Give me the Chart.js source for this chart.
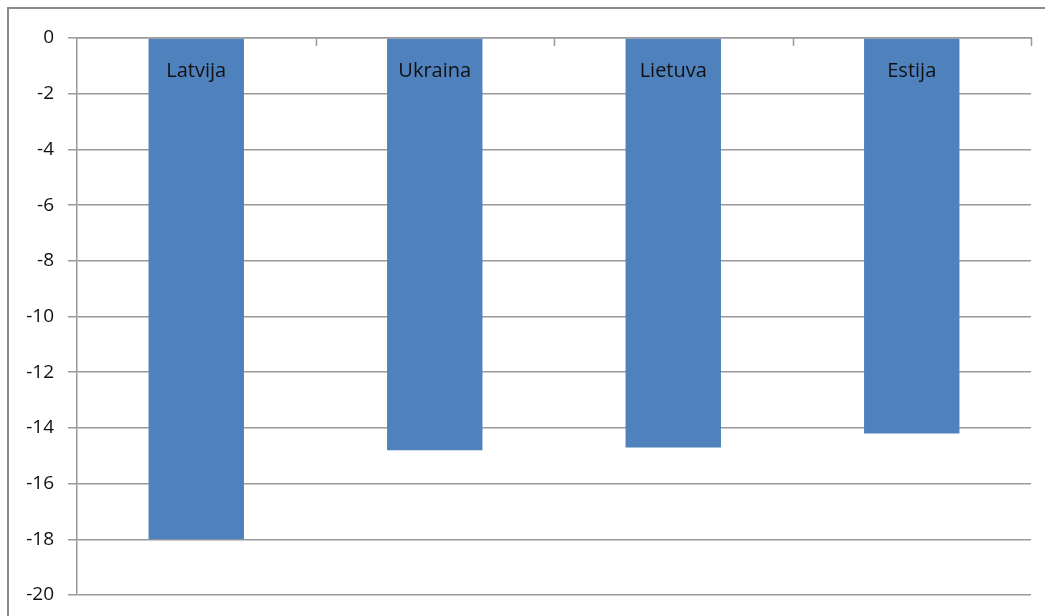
<!DOCTYPE html>
<html>
<head>
<meta charset="utf-8">
<script src="https://cdn.jsdelivr.net/npm/chart.js@4"></script>
<style>
  html, body { margin: 0; padding: 0; background: #fff; overflow: hidden; }
  #wrap { position: relative; width: 1045px; height: 616px; }
  #frame {
    position: absolute; left: 7px; top: 7px; width: 1100px; height: 700px;
    border-left: 2px solid #8a8a8a; border-top: 2px solid #8a8a8a;
    pointer-events: none;
  }
  canvas { position: absolute; left: 0; top: 0; }
</style>
</head>
<body>
<div id="wrap">
  <div id="frame"></div>
  <canvas id="chart" width="1045" height="616"></canvas>
</div>
<script>
// Countries and their values
const countries = ['Latvija', 'Ukraina', 'Lietuva', 'Estija'];
const values = [-18, -14.8, -14.7, -14.2];
const yMin = -20;
const yMax = 0;
const yStep = 2;

const FONT = '"Open Sans", Lato, sans-serif';
const GRID = '#9a9a9a';

// Writes each category name inside the top of its bar, and draws the short
// inward tick marks between categories along the top axis.
const categoryLabels = {
  id: 'categoryLabels',
  afterDatasetsDraw(chart) {
    const { ctx, chartArea } = chart;
    const x = chart.scales.x;
    ctx.save();
    ctx.fillStyle = '#111';
    ctx.font = '20px ' + FONT;
    ctx.textAlign = 'center';
    ctx.textBaseline = 'middle';
    countries.forEach((name, i) => {
      ctx.fillText(name, x.getPixelForValue(i), chartArea.top + 33);
    });
    ctx.strokeStyle = GRID;
    ctx.lineWidth = 1.5;
    const edges = [];
    for (let i = 1; i < countries.length; i++) {
      edges.push((x.getPixelForValue(i - 1) + x.getPixelForValue(i)) / 2);
    }
    edges.push(chartArea.right);
    edges.forEach(px => {
      const p = Math.round(px) + 0.5;
      ctx.beginPath();
      ctx.moveTo(p, chartArea.top);
      ctx.lineTo(p, chartArea.top + 8);
      ctx.stroke();
    });
    ctx.restore();
  }
};

new Chart(document.getElementById('chart'), {
  type: 'bar',
  data: {
    labels: countries,
    datasets: [{
      data: values,
      backgroundColor: '#4F81BD',
      borderWidth: 0,
      categoryPercentage: 0.4,
      barPercentage: 1.0
    }]
  },
  options: {
    responsive: false,
    animation: false,
    devicePixelRatio: 1,
    layout: { padding: { top: 38, right: 14, bottom: 21, left: 0 } },
    plugins: { legend: { display: false }, tooltip: { enabled: false } },
    scales: {
      x: {
        position: 'top',
        grid: { display: false },
        border: { display: true, color: GRID, width: 1.5 },
        ticks: { display: false },
        afterFit(scale) { scale.height = 0; }
      },
      y: {
        min: yMin,
        max: yMax,
        ticks: {
          stepSize: yStep,
          color: '#111',
          padding: 14,
          font: { family: FONT, size: 19 }
        },
        grid: { color: GRID, lineWidth: 1.5, tickLength: 9 },
        border: { display: true, color: GRID, width: 1.5 },
        afterFit(scale) {
          scale.width = 77;
          scale.paddingTop = 0;
          scale.paddingBottom = 0;
        }
      }
    }
  },
  plugins: [categoryLabels]
});
</script>
</body>
</html>
